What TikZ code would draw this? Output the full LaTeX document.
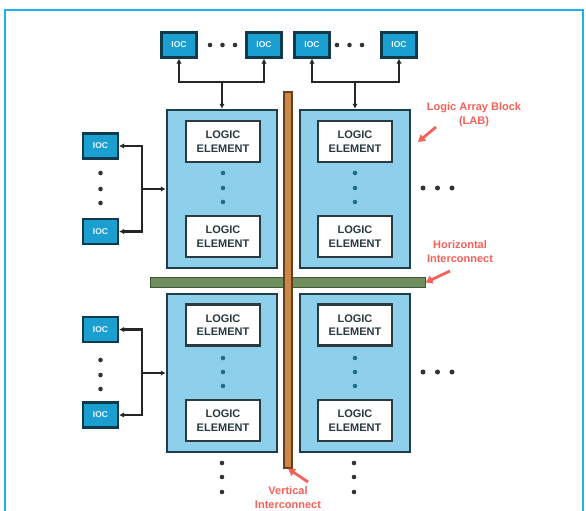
\documentclass[tikz,border=0pt]{standalone}
\usepackage{fontspec}
\setmainfont{Liberation Sans}
\usetikzlibrary{arrows.meta}
\definecolor{framecyan}{HTML}{1CB2EC}
\definecolor{iocfill}{HTML}{1B9FD0}
\definecolor{iocdark}{HTML}{0E3A4C}
\definecolor{labfill}{HTML}{8ED0EC}
\definecolor{labdark}{HTML}{1E3E4C}
\definecolor{ledark}{HTML}{2A3A40}
\definecolor{orangebar}{HTML}{C9884A}
\definecolor{orangedark}{HTML}{6A3E1A}
\definecolor{greenbar}{HTML}{6E8E5E}
\definecolor{greendark}{HTML}{3C5A34}
\definecolor{labelred}{HTML}{F4625A}
\definecolor{dotteal}{HTML}{1E6E8C}
\tikzset{
  iocbox/.style={rectangle, minimum width=35pt, minimum height=25pt, inner sep=0pt,
    fill=iocfill, draw=iocdark, line width=2.2pt, text=white!92!cyan, font=\bfseries\fontsize{8.5}{9}\selectfont},
  labbox/.style={rectangle, minimum width=110pt, minimum height=158pt, inner sep=0pt,
    fill=labfill, draw=labdark, line width=2.5pt},
  lebox/.style={rectangle, minimum width=74pt, minimum height=41pt, inner sep=0pt,
    fill=white, draw=ledark, line width=2.5pt, align=center, text=ledark,
    font=\bfseries\fontsize{11}{13.5}\selectfont},
  arr/.style={line width=2.2pt, draw=black!85, -{Latex[length=5pt,width=5.5pt]}},
  redlbl/.style={text=labelred, align=center, font=\bfseries\fontsize{11}{14}\selectfont, inner sep=0pt},
  redarr/.style={line width=2.8pt, draw=labelred, -{Triangle[length=7pt,width=8pt]}},
  blackdot/.style={fill=black!80},
  tealdot/.style={fill=dotteal}
}
\begin{document}
\begin{tikzpicture}[x=1pt,y=-1pt]
\useasboundingbox (0,0) rectangle (586,511);
\fill[white] (0,0) rectangle (586,511);
% outer frame
\draw[framecyan, line width=1.6pt] (5,511) -- (5,10) -- (583,10) -- (583,511);

% LABs
\node[labbox] (lab1) at (222,189) {};
\node[labbox] (lab2) at (355,189) {};
\node[labbox] (lab3) at (222,373) {};
\node[labbox] (lab4) at (355,373) {};

% logic elements
\node[lebox] (le1) at (223,141.5) {LOGIC\\ELEMENT};
\node[lebox] (le2) at (223,236.5) {LOGIC\\ELEMENT};
\node[lebox] (le3) at (355,141.5) {LOGIC\\ELEMENT};
\node[lebox] (le4) at (355,236.5) {LOGIC\\ELEMENT};
\node[lebox] (le5) at (223,325) {LOGIC\\ELEMENT};
\node[lebox] (le6) at (223,420.5) {LOGIC\\ELEMENT};
\node[lebox] (le7) at (355,325) {LOGIC\\ELEMENT};
\node[lebox] (le8) at (355,420.5) {LOGIC\\ELEMENT};

% dots inside LABs
\foreach \x in {223,355}{
  \foreach \y in {173,188,202,358,372,386}{
    \fill[tealdot] (\x,\y) circle (2.3pt);
  }
}

% interconnect bars
\node[rectangle, fill=greenbar, draw=greendark, line width=1pt, minimum width=275pt, minimum height=10pt, inner sep=0pt] (rowbar) at (287.5,282.5) {};
\node[rectangle, fill=orangebar, draw=orangedark, line width=1.2pt, minimum width=8pt, minimum height=376pt, inner sep=0pt] (colbar) at (288,280) {};

% top IOCs
\node[iocbox] (t1) at (179,45) {IOC};
\node[iocbox] (t2) at (264,45) {IOC};
\node[iocbox] (t3) at (312,45) {IOC};
\node[iocbox] (t4) at (399,45) {IOC};
\foreach \x in {210,222.5,235,337,349.5,362}{
  \fill[blackdot] (\x,45) circle (2.3pt);
}

% left IOCs
\node[iocbox] (l1) at (100.5,146) {IOC};
\node[iocbox] (l2) at (100.5,231.5) {IOC};
\node[iocbox] (l3) at (100.5,329.5) {IOC};
\node[iocbox] (l4) at (100.5,415) {IOC};
\foreach \y in {173,189,203,360,375,389}{
  \fill[blackdot] (100.5,\y) circle (2.3pt);
}

% right dots
\foreach \x in {423,437.5,452}{
  \fill[blackdot] (\x,188) circle (2.5pt);
  \fill[blackdot] (\x,372) circle (2.5pt);
}
% bottom dots
\foreach \x in {222,354}{
  \foreach \y in {463,477,492}{
    \fill[blackdot] (\x,\y) circle (2.3pt);
  }
}

% top buses
\coordinate (b1) at (222,82);
\coordinate (b2) at (355,82);
\draw[arr] (b1) -| (t1.south);
\draw[arr] (b1) -| (t2.south);
\draw[arr] (b1) -- (lab1.north);
\draw[arr] (b2) -| (t3.south);
\draw[arr] (b2) -| (t4.south);
\draw[arr] (b2) -- (lab2.north);

% left buses
\coordinate (c1) at (142,189);
\coordinate (c2) at (142,373);
\draw[arr] (c1) |- (l1.east);
\draw[arr] (c1) |- (l2.east);
\draw[arr] (c1) -- (lab1.west);
\draw[arr] (c2) |- (l3.east);
\draw[arr] (c2) |- (l4.east);
\draw[arr] (c2) -- (lab3.west);

% red labels
\node[redlbl] (lablbl) at (474,115) {Logic Array Block\\(LAB)};
\coordinate (lablbltip) at (418,142);
\draw[redarr] (436,127) -- (lablbltip);
\node[redlbl] (rowlbl) at (460,251.5) {Horizontal\\Interconnect};
\draw[redarr] (450,271) -- (rowbar.east);
\node[redlbl] (collbl) at (288,497.5) {Vertical\\Interconnect};
\draw[redarr] (308,482) -- (colbar.south);
\end{tikzpicture}
\end{document}
